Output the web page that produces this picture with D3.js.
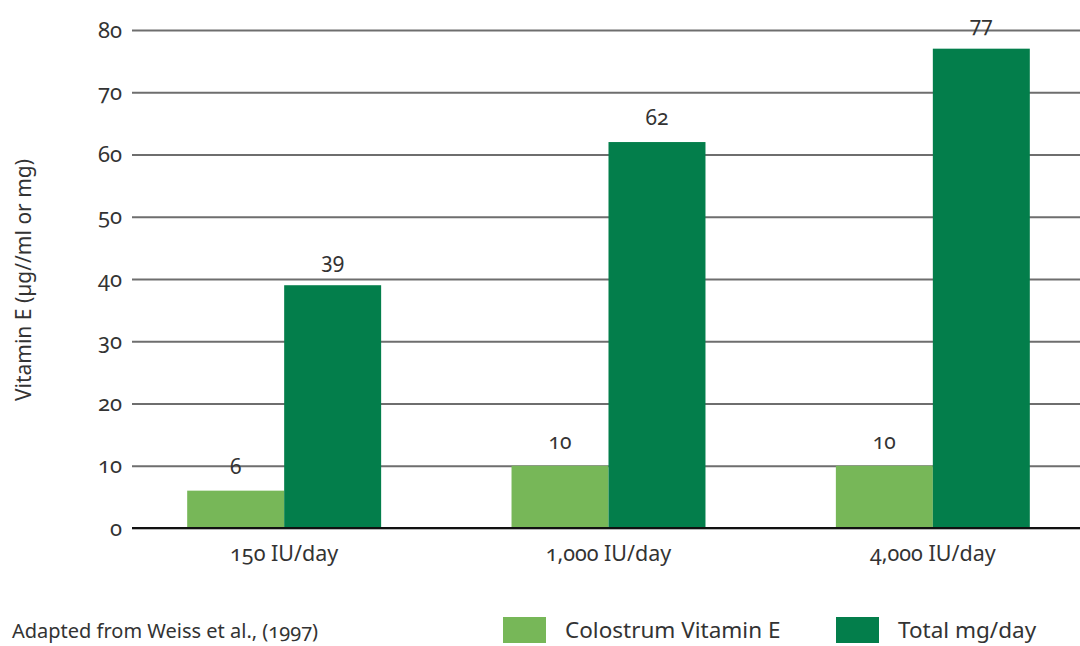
<!DOCTYPE html>
<html>
<head>
<meta charset="utf-8">
<script src="https://cdn.jsdelivr.net/npm/d3@7"></script>
<style>
  html, body { margin: 0; padding: 0; background: #fff; }
  svg { display: block; }
  text { font-family: "Noto Sans", sans-serif; fill: #333; font-feature-settings: "onum"; }
</style>
</head>
<body>
<svg id="chart" width="1080" height="646"></svg>
<script>
// Vitamin E supplementation groups
const categories = ["150 IU/day", "1,000 IU/day", "4,000 IU/day"];
const seriesNames = ["Colostrum Vitamin E", "Total mg/day"];
const colostrumValues = [6, 10, 10];
const totalValues = [39, 62, 77];
const yTicks = [0, 10, 20, 30, 40, 50, 60, 70, 80];
const colors = ["#77b758", "#037e4b"];

const svg = d3.select("#chart");
const plot = { left: 132, right: 1080, top: 30, bottom: 528 };

const y = d3.scaleLinear().domain([0, 80]).range([plot.bottom, plot.top]);
const x = d3.scaleBand().domain(categories).range([122, 1095])
  .paddingInner(0.402).paddingOuter(0.201);
const xs = d3.scaleBand().domain(seriesNames).range([0, x.bandwidth()]);

// gridlines + tick labels
const yAxis = d3.axisLeft(y).tickValues(yTicks).tickSize(-(plot.right - plot.left)).tickPadding(10);
const gy = svg.append("g").attr("transform", `translate(${plot.left},0)`).call(yAxis);
gy.select(".domain").remove();
gy.selectAll(".tick line").attr("stroke", "#6e6e6e").attr("stroke-width", 2);
gy.selectAll(".tick text").attr("font-size", 22).attr("fill", "#333")
  .attr("font-family", "Noto Sans, sans-serif");

const rows = categories.map((c, i) => ({ cat: c, vals: [colostrumValues[i], totalValues[i]] }));

const groups = svg.append("g").selectAll("g").data(rows).join("g")
  .attr("transform", d => `translate(${x(d.cat)},0)`);

groups.selectAll("rect").data(d => d.vals.map((v, j) => ({ name: seriesNames[j], v, j })))
  .join("rect")
  .attr("x", d => xs(d.name))
  .attr("width", xs.bandwidth())
  .attr("y", d => y(d.v))
  .attr("height", d => y(0) - y(d.v))
  .attr("fill", d => colors[d.j]);

groups.selectAll("text.val").data(d => d.vals.map((v, j) => ({ name: seriesNames[j], v, j })))
  .join("text").attr("class", "val")
  .attr("x", d => xs(d.name) + xs.bandwidth() / 2)
  .attr("y", d => y(d.v) - 17)
  .attr("text-anchor", "middle")
  .attr("font-size", 21)
  .text(d => d.v);

// baseline
svg.append("line").attr("x1", plot.left).attr("x2", plot.right)
  .attr("y1", y(0)).attr("y2", y(0))
  .attr("stroke", "#111").attr("stroke-width", 2);

// category labels
const xAxis = d3.axisBottom(x).tickSize(0).tickPadding(18);
const gx = svg.append("g").attr("transform", `translate(0,${plot.bottom})`).call(xAxis);
gx.select(".domain").remove();
gx.selectAll(".tick text").attr("font-size", 21.5).attr("fill", "#333")
  .attr("font-family", "Noto Sans, sans-serif");

// y axis title
svg.append("text")
  .attr("transform", "translate(31,280) rotate(-90)")
  .attr("text-anchor", "middle")
  .attr("font-size", 21)
  .text("Vitamin E (µg//ml or mg)");

// source note
svg.append("text").attr("x", 12).attr("y", 638).attr("font-size", 20)
  .text("Adapted from Weiss et al., (1997)");

// legend
const legendX = [503, 836];
const lg = svg.append("g").selectAll("g").data(seriesNames).join("g")
  .attr("transform", (d, i) => `translate(${legendX[i]},617)`);
lg.append("rect").attr("width", 43).attr("height", 26).attr("fill", (d, i) => colors[i]);
lg.append("text").attr("x", 62).attr("y", 21).attr("font-size", 22.5).text(d => d);
</script>
</body>
</html>
